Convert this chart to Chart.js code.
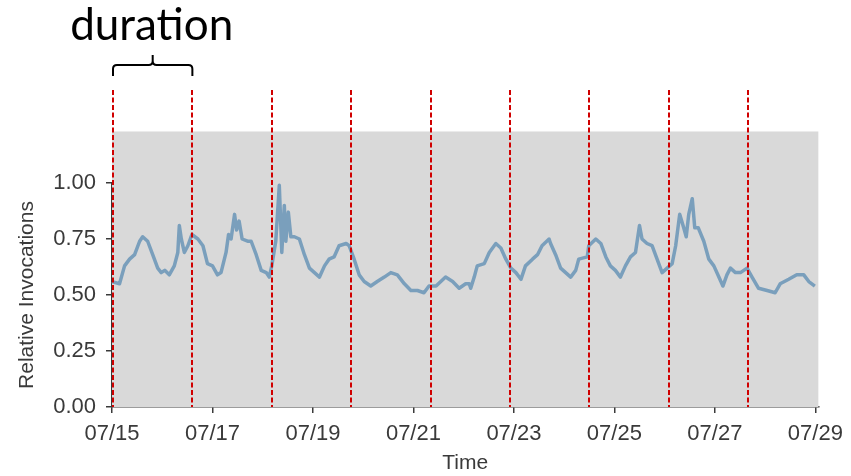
<!DOCTYPE html>
<html>
<head>
<meta charset="utf-8">
<script src="https://cdn.jsdelivr.net/npm/chart.js@4.4.0/dist/chart.umd.min.js"></script>
<style>
  html, body { margin: 0; padding: 0; background: #fff; }
  #wrap { width: 851px; height: 476px; }
</style>
</head>
<body>
<div id="wrap"><canvas id="invocations" width="851" height="476"></canvas></div>
<script>
// days since 07/15 00:00
const days = [0, 0.15, 0.25, 0.35, 0.45, 0.55, 0.61, 0.71, 0.81, 0.91, 0.98, 1.05, 1.14, 1.24, 1.31, 1.34, 1.38, 1.44, 1.51, 1.59,
  1.71, 1.81, 1.90, 2.00, 2.10, 2.17, 2.27, 2.32, 2.37, 2.44, 2.48, 2.53, 2.59, 2.70, 2.77, 2.87, 2.97, 3.07, 3.13, 3.18,
  3.26, 3.33, 3.38, 3.43, 3.46, 3.51, 3.56, 3.63, 3.73, 3.83, 3.93, 4.03, 4.13, 4.23, 4.32, 4.42, 4.52, 4.66, 4.72, 4.82,
  4.92, 5.02, 5.15, 5.28, 5.42, 5.55, 5.68, 5.82, 5.95, 6.08, 6.21, 6.31, 6.45, 6.64, 6.78, 6.91, 7.04, 7.11, 7.14, 7.21,
  7.27, 7.41, 7.51, 7.64, 7.74, 7.84, 7.94, 8.04, 8.14, 8.23, 8.37, 8.47, 8.56, 8.70, 8.73, 8.83, 8.93, 9.03, 9.13, 9.23,
  9.29, 9.46, 9.49, 9.63, 9.73, 9.83, 9.92, 10.02, 10.12, 10.22, 10.32, 10.42, 10.50, 10.55, 10.65, 10.75, 10.85, 10.95, 11.05, 11.15,
  11.22, 11.30, 11.38, 11.43, 11.48, 11.55, 11.60, 11.67, 11.78, 11.88, 11.98, 12.08, 12.16, 12.24, 12.31, 12.41, 12.51, 12.64, 12.74, 12.87,
  13.04, 13.20, 13.30, 13.47, 13.63, 13.77, 13.87, 13.99];

const relInvocations = [0.56, 0.55, 0.63, 0.66, 0.68, 0.74, 0.76, 0.74, 0.68, 0.62, 0.60, 0.61, 0.59, 0.63, 0.69, 0.81, 0.75, 0.69, 0.72, 0.77,
  0.75, 0.72, 0.64, 0.63, 0.59, 0.60, 0.69, 0.77, 0.75, 0.86, 0.79, 0.83, 0.75, 0.74, 0.74, 0.68, 0.61, 0.60, 0.58, 0.63,
  0.74, 0.99, 0.69, 0.90, 0.74, 0.87, 0.76, 0.76, 0.75, 0.68, 0.62, 0.60, 0.58, 0.63, 0.66, 0.67, 0.72, 0.73, 0.72, 0.66,
  0.59, 0.56, 0.54, 0.56, 0.58, 0.60, 0.59, 0.55, 0.52, 0.52, 0.51, 0.54, 0.54, 0.58, 0.56, 0.53, 0.55, 0.55, 0.53, 0.58,
  0.63, 0.64, 0.69, 0.73, 0.71, 0.66, 0.62, 0.60, 0.57, 0.63, 0.66, 0.68, 0.72, 0.75, 0.73, 0.68, 0.62, 0.60, 0.58, 0.61,
  0.66, 0.67, 0.72, 0.75, 0.73, 0.67, 0.63, 0.61, 0.58, 0.63, 0.67, 0.69, 0.81, 0.75, 0.73, 0.72, 0.66, 0.60, 0.62, 0.64,
  0.72, 0.86, 0.80, 0.76, 0.86, 0.93, 0.80, 0.80, 0.74, 0.66, 0.63, 0.58, 0.54, 0.59, 0.62, 0.60, 0.60, 0.62, 0.58, 0.53,
  0.52, 0.51, 0.55, 0.57, 0.59, 0.59, 0.56, 0.54];

// "duration" boundaries, in days since 07/15
const durationMarks = [0, 1.58, 3.16, 4.74, 6.32, 7.90, 9.48, 11.06, 12.64];

const xTickValues = [0, 2, 4, 6, 8, 10, 12, 14];
const xTickLabels = ['07/15', '07/17', '07/19', '07/21', '07/23', '07/25', '07/27', '07/29'];
const yTickValues = [0, 0.25, 0.5, 0.75, 1.0];
const shadeTop = 1.23;

const axisColor = '#3a3a3a';
const tickFont = { family: 'Liberation Sans', size: 22 };
const titleFont = { family: 'Liberation Sans', size: 21 };

// gray panel behind the series, taller than the y axis
const shadePlugin = {
  id: 'shade',
  beforeDatasetsDraw(chart) {
    const { ctx, chartArea, scales } = chart;
    const top = scales.y.getPixelForValue(shadeTop);
    ctx.save();
    ctx.fillStyle = '#d9d9d9';
    ctx.fillRect(chartArea.left, top, chartArea.right - chartArea.left, chartArea.bottom - top);
    ctx.restore();
  }
};

// red dashed duration boundaries + brace + label
const durationPlugin = {
  id: 'duration',
  afterDatasetsDraw(chart) {
    const { ctx, chartArea, scales } = chart;
    const top = chartArea.top;
    ctx.save();
    ctx.strokeStyle = '#d00000';
    ctx.lineWidth = 2;
    ctx.setLineDash([5, 2.5]);
    durationMarks.forEach(d => {
      const x = Math.round(scales.x.getPixelForValue(d)) + 1;
      ctx.beginPath();
      ctx.moveTo(x, top - 93);
      ctx.lineTo(x, chartArea.bottom);
      ctx.stroke();
    });
    ctx.setLineDash([]);

    const x0 = scales.x.getPixelForValue(durationMarks[0]) + 1;
    const x1 = scales.x.getPixelForValue(durationMarks[1]) + 1;
    const xm = (x0 + x1) / 2;
    const yb = top - 107, yh = top - 118, yt = top - 128, r = 4;
    ctx.strokeStyle = '#000';
    ctx.lineWidth = 2;
    ctx.beginPath();
    ctx.moveTo(x0, yb);
    ctx.lineTo(x0, yh + r);
    ctx.quadraticCurveTo(x0, yh, x0 + r, yh);
    ctx.lineTo(xm - r, yh);
    ctx.quadraticCurveTo(xm, yh, xm, yh - r);
    ctx.lineTo(xm, yt);
    ctx.moveTo(xm, yh - r);
    ctx.quadraticCurveTo(xm, yh, xm + r, yh);
    ctx.lineTo(x1 - r, yh);
    ctx.quadraticCurveTo(x1, yh, x1, yh + r);
    ctx.lineTo(x1, yb);
    ctx.stroke();

    ctx.fillStyle = '#000';
    ctx.font = '44px Lato';
    ctx.textAlign = 'center';
    ctx.textBaseline = 'alphabetic';
    ctx.fillText('duration', xm - 1, top - 143);
    ctx.restore();
  }
};

const points = days.map((d, i) => ({ x: d, y: relInvocations[i] }));

new Chart(document.getElementById('invocations'), {
  type: 'line',
  data: {
    datasets: [{
      data: points,
      borderColor: '#7a9fbc',
      borderWidth: 3.5,
      pointRadius: 0,
      tension: 0,
      borderJoinStyle: 'round',
      clip: 10
    }]
  },
  options: {
    responsive: false,
    animation: false,
    layout: { padding: { top: 183, right: 32, left: 0, bottom: 0 } },
    plugins: { legend: { display: false }, tooltip: { enabled: false } },
    scales: {
      x: {
        type: 'linear',
        min: 0,
        max: 14.06,
        afterFit(scale) { scale.height = 69; },
        afterBuildTicks(scale) { scale.ticks = xTickValues.map(v => ({ value: v })); },
        border: { color: axisColor, width: 1.5 },
        grid: { drawOnChartArea: false, drawTicks: true, tickLength: 6, color: axisColor, lineWidth: 1.5 },
        ticks: {
          color: axisColor,
          font: tickFont,
          padding: 8,
          maxRotation: 0,
          autoSkip: false,
          callback: (v) => xTickLabels[xTickValues.indexOf(v)]
        },
        title: { display: true, text: 'Time', color: axisColor, font: titleFont, padding: { top: 0, bottom: 0 } }
      },
      y: {
        min: 0,
        max: 1.0,
        afterFit(scale) { scale.width = 112; },
        afterBuildTicks(scale) { scale.ticks = yTickValues.map(v => ({ value: v })); },
        border: { color: axisColor, width: 1.5 },
        grid: { drawOnChartArea: false, drawTicks: true, tickLength: 6, color: axisColor, lineWidth: 1.5 },
        ticks: {
          color: axisColor,
          font: tickFont,
          padding: 10,
          callback: (v) => v.toFixed(2)
        },
        title: { display: true, text: 'Relative Invocations', color: axisColor, font: titleFont, padding: { top: 15, bottom: 0 } }
      }
    }
  },
  plugins: [shadePlugin, durationPlugin]
});
</script>
</body>
</html>
